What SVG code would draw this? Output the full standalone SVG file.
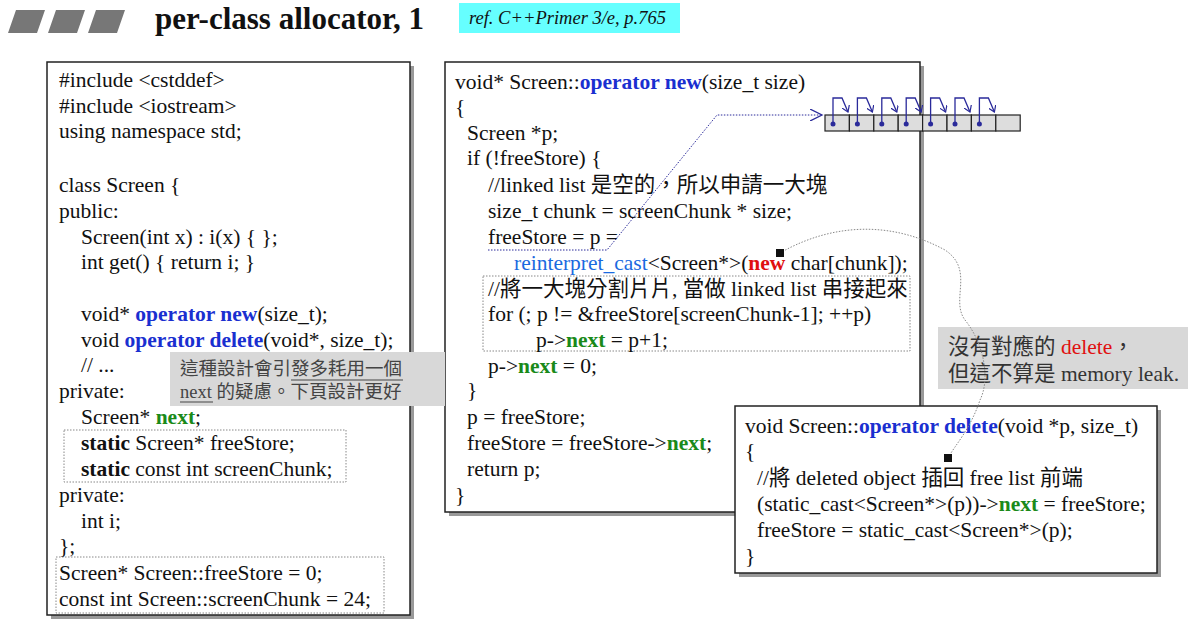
<svg xmlns="http://www.w3.org/2000/svg" width="1201" height="643" viewBox="0 0 1201 643">
<style>
text{font-family:"Liberation Serif","Noto Sans CJK TC",serif;font-size:21.5px;fill:#111}
.kw{fill:#1a2fd0;font-weight:bold}
.nx{fill:#1a8a1a;font-weight:bold}
.b{font-weight:bold}
.box{fill:#fff;stroke:#222;stroke-width:1.5}
.sh{fill:#999}
.dot{fill:none;stroke:#888;stroke-width:1;stroke-dasharray:1.5 1.5}
.note{fill:#d8d8d8}
.cell{fill:#ddd;stroke:#222;stroke-width:1.2}
.lk{fill:none;stroke:#2a2a9a;stroke-width:1.3}
</style>
<defs>
<marker id="ah" markerWidth="8" markerHeight="8" refX="6" refY="4" orient="auto" markerUnits="userSpaceOnUse"><path d="M0,0 L6,4 L0,8" fill="none" stroke="#2a2a9a" stroke-width="1.2"/></marker>
<marker id="ah2" markerWidth="14" markerHeight="12" refX="12" refY="6" orient="auto" markerUnits="userSpaceOnUse"><path d="M0,0 L12,6 L0,12" fill="none" stroke="#2a2a9a" stroke-width="1.3"/></marker>
<marker id="sq" markerWidth="8" markerHeight="8" refX="4" refY="4" markerUnits="userSpaceOnUse"><rect width="8" height="8" fill="#111"/></marker>
</defs>
<g id="header">
<path d="M16,10 H45 L37,33 H8 Z M56,10 H85 L77,33 H48 Z M96,10 H125 L117,33 H88 Z" fill="#777"/>
<text x="155" y="29" style="font-size:31px;font-weight:bold">per-class allocator, 1</text>
<rect x="459" y="3" width="221" height="30" fill="#66ffff"/>
<text x="469" y="24" style="font-size:18.5px;font-style:italic">ref. C++Primer 3/e, p.765</text>
</g>
<g id="classdef">
<rect class="sh" x="51" y="66" width="363" height="553"/>
<rect class="box" x="47" y="62" width="363" height="553"/>
<rect class="dot" x="64" y="430" width="282" height="52"/>
<rect class="dot" x="56" y="557" width="328" height="56"/>
<text x="59" y="87">#include &lt;cstddef&gt;</text>
<text x="59" y="113">#include &lt;iostream&gt;</text>
<text x="59" y="138">using namespace std;</text>
<text x="59" y="192">class Screen {</text>
<text x="59" y="218">public:</text>
<text x="81" y="244">Screen(int x) : i(x) { };</text>
<text x="81" y="269">int get() { return i; }</text>
<text x="81" y="321">void* <tspan class="kw">operator new</tspan>(size_t);</text>
<text x="81" y="347">void <tspan class="kw">operator delete</tspan>(void*, size_t);</text>
<text x="81" y="372">// ...</text>
<text x="59" y="398">private:</text>
<text x="81" y="424">Screen* <tspan class="nx">next</tspan>;</text>
<text x="81" y="450"><tspan class="b">static</tspan> Screen* freeStore;</text>
<text x="81" y="476"><tspan class="b">static</tspan> const int screenChunk;</text>
<text x="59" y="502">private:</text>
<text x="81" y="528">int i;</text>
<text x="59" y="553">};</text>
<text x="59" y="580">Screen* Screen::freeStore = 0;</text>
<text x="59" y="606">const int Screen::screenChunk = 24;</text>
</g>
<g id="opnew">
<rect class="sh" x="449" y="66" width="475" height="450"/>
<rect class="box" x="445" y="62" width="475" height="450"/>
<rect class="dot" x="483" y="276" width="427" height="75"/>
<text x="455" y="89">void* Screen::<tspan class="kw">operator new</tspan>(size_t size)</text>
<text x="455" y="114">{</text>
<text x="467" y="140">Screen *p;</text>
<text x="467" y="165">if (!freeStore) {</text>
<text x="488" y="192">//linked list 是空的，所以申請一大塊</text>
<text x="488" y="218">size_t chunk = screenChunk * size;</text>
<text x="488" y="244">freeStore = p =</text>
<text x="514" y="270"><tspan style="fill:#1a6ae0">reinterpret_cast</tspan>&lt;Screen*&gt;(<tspan style="fill:#e01010;font-weight:bold">new</tspan> char[chunk]);</text>
<text x="488" y="296">//將一大塊分割片片, 當做 linked list 串接起來</text>
<text x="488" y="321">for (; p != &amp;freeStore[screenChunk-1]; ++p)</text>
<text x="536" y="347">p-&gt;<tspan class="nx">next</tspan> = p+1;</text>
<text x="488" y="373">p-&gt;<tspan class="nx">next</tspan> = 0;</text>
<text x="467" y="397">}</text>
<text x="467" y="424">p = freeStore;</text>
<text x="467" y="450">freeStore = freeStore-&gt;<tspan class="nx">next</tspan>;</text>
<text x="467" y="476">return p;</text>
<text x="455" y="502">}</text>
</g>
<g id="list">
<rect class="cell" x="825" y="115" width="24.4" height="16"/><rect class="cell" x="849.4" y="115" width="24.4" height="16"/><rect class="cell" x="873.8" y="115" width="24.4" height="16"/><rect class="cell" x="898.2" y="115" width="24.4" height="16"/><rect class="cell" x="922.6" y="115" width="24.4" height="16"/><rect class="cell" x="947" y="115" width="24.4" height="16"/><rect class="cell" x="971.4" y="115" width="24.4" height="16"/><rect class="cell" x="995.8" y="115" width="24.4" height="16"/>
<g fill="#2a2a9a"><circle cx="833" cy="124" r="2.5"/><circle cx="857.4" cy="124" r="2.5"/><circle cx="881.8" cy="124" r="2.5"/><circle cx="906.2" cy="124" r="2.5"/><circle cx="930.6" cy="124" r="2.5"/><circle cx="955" cy="124" r="2.5"/><circle cx="979.4" cy="124" r="2.5"/></g>
<g class="lk" marker-end="url(#ah)">
<path d="M833,124 V98 H842 L848,112"/><path d="M857.4,124 V98 H866.4 L872.4,112"/><path d="M881.8,124 V98 H890.8 L896.8,112"/><path d="M906.2,124 V98 H915.2 L921.2,112"/><path d="M930.6,124 V98 H939.6 L945.6,112"/><path d="M955,124 V98 H964 L970,112"/><path d="M979.4,124 V98 H988.4 L994.4,112"/>
</g>
</g>
<g id="note1">
<rect class="note" x="170" y="352" width="275" height="54"/>
<text x="180" y="375" style="font-size:18.5px;fill:#444">這種設計會引發多耗用一個</text>
<text x="180" y="398" style="font-size:18.5px;fill:#444">next 的疑慮。下頁設計更好</text>
<line x1="180" y1="402" x2="213" y2="402" stroke="#444" stroke-width="1"/>
<line x1="291" y1="380" x2="403" y2="380" stroke="#444" stroke-width="1"/>
</g>
<g id="note2">
<rect class="note" x="938" y="327" width="250" height="62"/>
<text x="948" y="354" style="fill:#333">沒有對應的 <tspan style="fill:#e01010">delete</tspan>，</text>
<text x="948" y="381" style="fill:#333">但這不算是 memory leak.</text>
</g>
<g id="opdelete">
<rect class="sh" x="739" y="410" width="422" height="167"/>
<rect class="box" x="735" y="406" width="422" height="167"/>
<text x="745" y="433">void Screen::<tspan class="kw">operator delete</tspan>(void *p, size_t)</text>
<text x="745" y="458">{</text>
<text x="757" y="485">//將 deleted object 插回 free list 前端</text>
<text x="757" y="511">(static_cast&lt;Screen*&gt;(p))-&gt;<tspan class="nx">next</tspan> = freeStore;</text>
<text x="757" y="537">freeStore = static_cast&lt;Screen*&gt;(p);</text>
<text x="745" y="563">}</text>
</g>
<g id="connectors">
<path d="M488,250 H607 L717,115 H822" fill="none" stroke="#2a2a9a" stroke-width="1" stroke-dasharray="1.5 1.5" marker-end="url(#ah2)"/>
<path d="M780,253 C820,230 880,215 945,250 C975,270 950,300 965,320 C985,345 990,380 980,400 C970,430 955,445 948,458" fill="none" stroke="#888" stroke-width="1" stroke-dasharray="1.5 1.5" marker-start="url(#sq)" marker-end="url(#sq)"/>
</g>
</svg>
